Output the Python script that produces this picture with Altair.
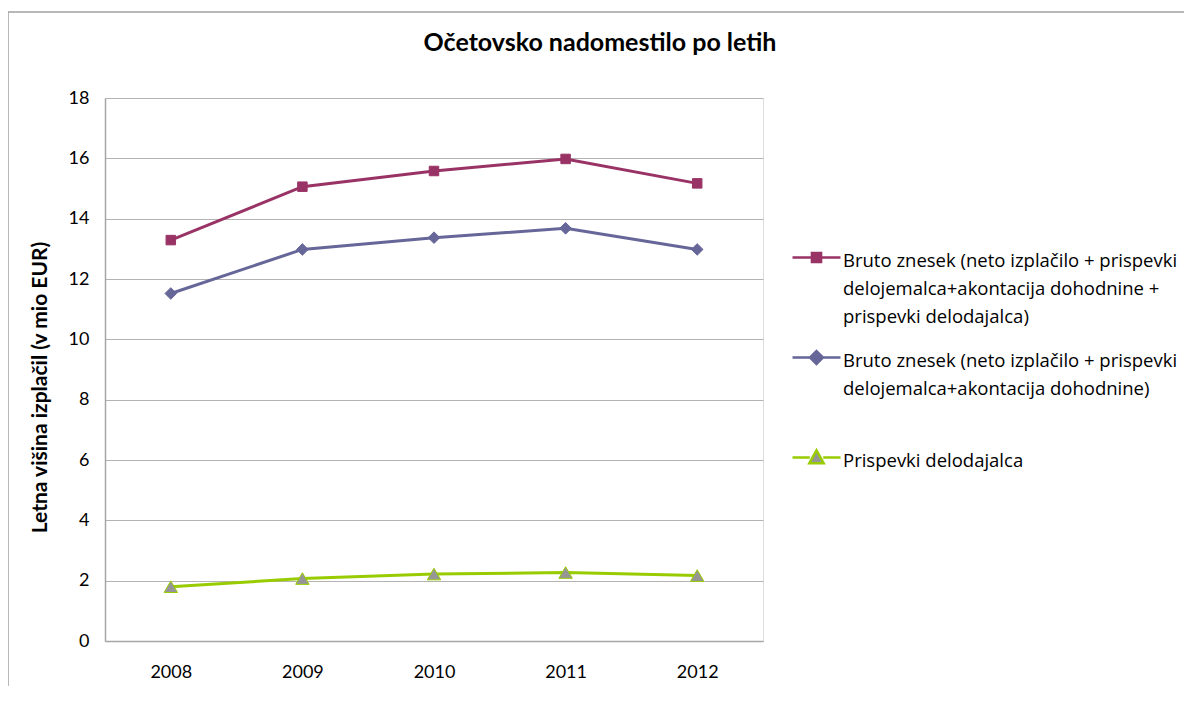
import altair as alt
import pandas as pd

years = ["2008", "2009", "2010", "2011", "2012"]
series_names = [
    "Bruto znesek (neto izplačilo + prispevki delojemalca+akontacija dohodnine + prispevki delodajalca)",
    "Bruto znesek (neto izplačilo + prispevki delojemalca+akontacija dohodnine)",
    "Prispevki delodajalca",
]
bruto_skupaj = [13.29, 15.06, 15.58, 15.98, 15.17]
bruto = [11.52, 12.98, 13.37, 13.68, 12.98]
prispevki_delodajalca = [1.80, 2.07, 2.22, 2.27, 2.17]
legend_lines = [
    ["Bruto znesek (neto izplačilo + prispevki", "delojemalca+akontacija dohodnine +", "prispevki delodajalca)"],
    ["Bruto znesek (neto izplačilo + prispevki", "delojemalca+akontacija dohodnine)", ""],
    ["Prispevki delodajalca", "", ""],
]
y_ticks = [0, 2, 4, 6, 8, 10, 12, 14, 16, 18]

line_colors = ["#993366", "#666699", "#99CC00"]
fill_colors = ["#993366", "#666699", "#969696"]
FONT = "Lato"
LEGEND_FONT = "Open Sans"

rows = []
for name, vals in zip(series_names, [bruto_skupaj, bruto, prispevki_delodajalca]):
    for yr, v in zip(years, vals):
        rows.append({"year": yr, "value": v, "series": name})
df = pd.DataFrame(rows)

# legend label expression (multi-line)
def js_arr(lines):
    return "[" + ",".join("'" + l + "'" for l in lines) + "]"

label_expr = (
    f"datum.label == '{series_names[0]}' ? {js_arr(legend_lines[0])} : "
    f"datum.label == '{series_names[1]}' ? {js_arr(legend_lines[1])} : {js_arr(legend_lines[2])}"
)

# legend symbols: line segment with marker (unit coordinates)
legend_paths = [
    "M-1,0.25H1M-0.19,0.06H0.19V0.44H-0.19Z",
    "M-1,0.25H1M0,-0.02L0.27,0.25L0,0.52L-0.27,0.25Z",
    "M-1,0.25H-0.28M0.28,0.25H1M0,-0.05L0.3,0.49H-0.3Z",
]

legend = alt.Legend(
    title=None,
    orient="none",
    legendX=686,
    legendY=128,
    padding=0,
    symbolSize=2304,
    symbolStrokeWidth=2.5,
    symbolOpacity=1,
    labelExpr=label_expr,
    labelFont=LEGEND_FONT,
    labelFontSize=18.5,
    labelColor="#000000",
    labelLimit=500,
    labelOffset=1,
    labelBaseline="top",
    rowPadding=-10,
)

base = alt.Chart(df).encode(
    x=alt.X(
        "year:O",
        title=None,
        scale=alt.Scale(type="point", padding=0.5),
        axis=alt.Axis(
            labelAngle=0,
            labelFont=FONT,
            labelFontSize=18,
            labelColor="#000000",
            labelPadding=22,
            ticks=False,
            grid=False,
            domainColor="#a6a6a6",
            domainWidth=1.5,
        ),
    ),
    y=alt.Y(
        "value:Q",
        title="Letna višina izplačil (v mio EUR)",
        scale=alt.Scale(domain=[0, 18], nice=False),
        axis=alt.Axis(
            values=y_ticks,
            labelFont=FONT,
            labelFontSize=18,
            labelColor="#000000",
            labelPadding=16,
            ticks=False,
            gridColor="#b3b3b3",
            gridWidth=1,
            domainColor="#a6a6a6",
            domainWidth=1.5,
            titleFont=FONT,
            titleFontSize=21,
            titleFontWeight="bold",
            titleColor="#000000",
            titleAngle=270,
            titleAlign="center",
            titleBaseline="middle",
            titleX=-65,
            titleY=289,
        ),
    ),
)

lines = base.mark_line(strokeWidth=3).encode(
    color=alt.Color("series:N", scale=alt.Scale(domain=series_names, range=line_colors), legend=None)
)

points = base.mark_point(filled=True, opacity=1, strokeWidth=1).encode(
    shape=alt.Shape("series:N", scale=alt.Scale(domain=series_names, range=["square", "diamond", "triangle-up"]), legend=None),
    fill=alt.Fill("series:N", scale=alt.Scale(domain=series_names, range=fill_colors), legend=None),
    stroke=alt.Stroke("series:N", scale=alt.Scale(domain=series_names, range=line_colors), legend=None),
    size=alt.Size("series:N", scale=alt.Scale(domain=series_names, range=[90, 180, 250]), legend=None),
)

legend_layer = base.mark_point(filled=True, opacity=0).encode(
    shape=alt.Shape("series:N", scale=alt.Scale(domain=series_names, range=legend_paths), legend=legend),
    fill=alt.Fill("series:N", scale=alt.Scale(domain=series_names, range=fill_colors), legend=legend),
    stroke=alt.Stroke("series:N", scale=alt.Scale(domain=series_names, range=line_colors), legend=legend),
)

one = pd.DataFrame({"a": [0]})
frame_left = alt.Chart(one).mark_rule(color="#a0a0a0", strokeWidth=1.5).encode(
    x=alt.value(-97), y=alt.value(-86), y2=alt.value(700)
)
frame_top = alt.Chart(one).mark_rule(color="#a0a0a0", strokeWidth=1.5).encode(
    x=alt.value(-97), x2=alt.value(1200), y=alt.value(-86)
)

chart = (
    alt.layer(frame_left, frame_top, lines, points, legend_layer)
    .resolve_scale(shape="independent", fill="independent", stroke="independent", size="independent")
    .properties(
        width=658,
        height=543,
        autosize=alt.AutoSizeParams(type="none"),
        padding={"left": 97, "top": 90, "right": 421, "bottom": 45},
        title=alt.TitleParams(
            "Očetovsko nadomestilo po letih",
            font=FONT,
            fontSize=25,
            fontWeight="bold",
            color="#000000",
            anchor="middle",
            frame="group",
            baseline="bottom",
            dx=166,
            offset=-70,
        ),
    )
    .configure_view(stroke=None)
    .configure(background="white", style={"guide-label": {"lineHeight": 28}})
)

chart.save("out.html", embed_options={"renderer": "svg", "actions": False})
